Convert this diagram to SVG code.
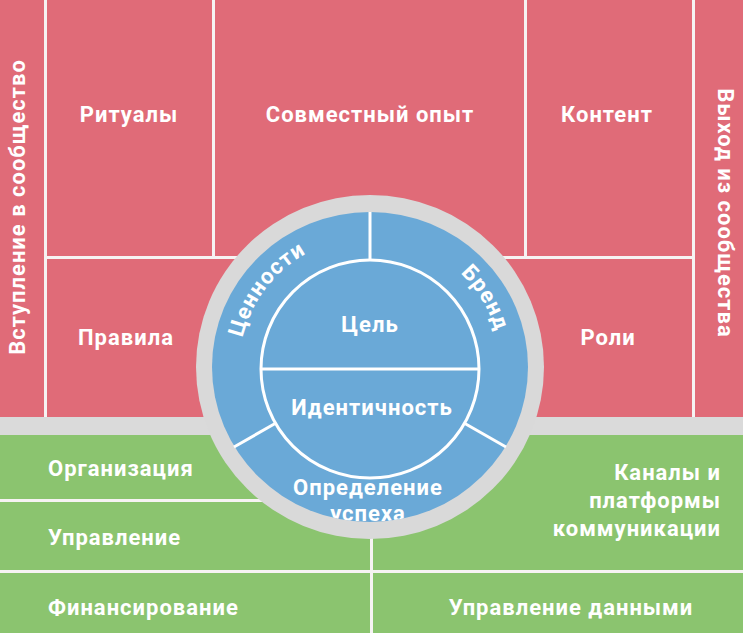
<svg xmlns="http://www.w3.org/2000/svg" width="743" height="633" viewBox="0 0 743 633">
<defs>
<style>
.red{fill:#e06b78}
.green{fill:#8bc46f}
.lbl{font-family:Roboto,"Liberation Sans",sans-serif;font-weight:700;font-size:22px;letter-spacing:1px;fill:#ffffff}
.c{text-anchor:middle}
.e{text-anchor:end}
.div{stroke:#ffffff;stroke-width:3;fill:none}
</style>
<clipPath id="blueClip"><ellipse cx="370" cy="367" rx="158" ry="155"/></clipPath>
<path id="arcL" d="M 256.6 433.5 A 131 131 0 0 1 370 237"/>
<path id="arcR" d="M 370 237 A 131 131 0 0 1 483.4 433.5"/>
</defs>
<rect width="743" height="633" fill="#f6f3f3"/>
<rect x="0" y="417" width="743" height="18" fill="#dadada"/>

<g id="entry"><rect class="red" x="0" y="0" width="44" height="417"/><text class="lbl c" transform="translate(25,207) rotate(-90)">Вступление в сообщество</text></g>
<g id="rituals"><rect class="red" x="47" y="0" width="165" height="256"/><text class="lbl c" x="129" y="122">Ритуалы</text></g>
<g id="shared"><rect class="red" x="215" y="0" width="309" height="256"/><text class="lbl c" x="370" y="122">Совместный опыт</text></g>
<g id="content"><rect class="red" x="527" y="0" width="165" height="256"/><text class="lbl c" x="607" y="122">Контент</text></g>
<g id="exit"><rect class="red" x="695" y="0" width="48" height="417"/><text class="lbl c" transform="translate(718,213) rotate(90)">Выход из сообщества</text></g>
<g id="rules"><rect class="red" x="47" y="259" width="325" height="158"/><text class="lbl c" x="126" y="345">Правила</text></g>
<g id="roles"><rect class="red" x="368" y="259" width="324" height="158"/><text class="lbl c" x="608" y="345">Роли</text></g>

<g id="organization"><rect class="green" x="0" y="435" width="370" height="64"/><text class="lbl" x="48" y="476">Организация</text></g>
<g id="management"><rect class="green" x="0" y="502" width="370" height="68"/><text class="lbl" x="48" y="545">Управление</text></g>
<g id="financing"><rect class="green" x="0" y="573" width="370" height="60"/><text class="lbl" x="48" y="615">Финансирование</text></g>
<g id="channels"><rect class="green" x="373" y="435" width="370" height="135"/><text class="lbl e" x="721"><tspan x="721" y="480">Каналы и</tspan><tspan x="721" y="508">платформы</tspan><tspan x="721" y="536">коммуникации</tspan></text></g>
<g id="data"><rect class="green" x="373" y="573" width="370" height="60"/><text class="lbl c" x="571" y="615">Управление данными</text></g>

<g id="core">
<ellipse cx="370" cy="367" rx="174" ry="172" fill="#d9d9d9"/>
<ellipse cx="370" cy="367" rx="158" ry="155" fill="#6aa9d7"/>
</g>
<g id="connectors">
<circle class="div" cx="370" cy="369" r="109"/>
<path class="div" d="M261 369 H479"/>
<path class="div" d="M370 212 V260"/>
<path class="div" d="M234 447 L276 423"/>
<path class="div" d="M506 447 L464 423"/>
</g>
<g id="values"><text class="lbl"><textPath href="#arcL" startOffset="56%" text-anchor="middle">Ценности</textPath></text></g>
<g id="brand"><text class="lbl"><textPath href="#arcR" startOffset="49%" text-anchor="middle">Бренд</textPath></text></g>
<g id="purpose"><text class="lbl c" x="370" y="332">Цель</text></g>
<g id="identity"><text class="lbl c" x="372" y="415">Идентичность</text></g>
<g id="success" clip-path="url(#blueClip)"><text class="lbl c" x="368"><tspan x="368" y="495">Определение</tspan><tspan x="368" y="521">успеха</tspan></text></g>
</svg>
